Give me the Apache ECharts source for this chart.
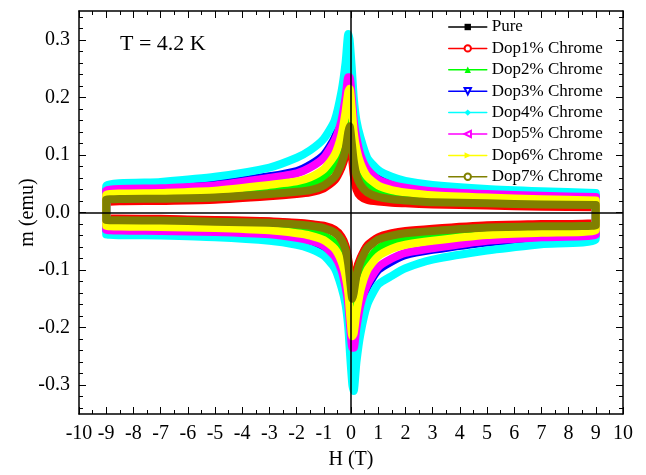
<!DOCTYPE html>
<html>
<head>
<meta charset="utf-8">
<script src="https://cdn.jsdelivr.net/npm/echarts@6/dist/echarts.min.js"></script>
<style>html,body{margin:0;padding:0;background:#fff}#c{width:646px;height:475px}</style>
</head>
<body>
<div id="c"></div>
<script>
// Field sweep grids (T)
const hUp   = [9, 7, 5, 3, 2, 1.5, 1, 0.6, 0.35, 0.2, 0.1, 0.03, -0.05, -0.1, -0.2, -0.35, -0.6, -1, -1.5, -2, -3, -5, -7, -9];
const hDown = [-9, -7, -5, -3, -2, -1.5, -1, -0.6, -0.35, -0.2, -0.1, -0.03, 0.05, 0.1, 0.2, 0.35, 0.6, 1, 1.5, 2, 3, 5, 7, 9];

const seriesNames = ['Pure', 'Dop1% Chrome', 'Dop2% Chrome', 'Dop3% Chrome', 'Dop4% Chrome', 'Dop5% Chrome', 'Dop6% Chrome', 'Dop7% Chrome'];

// m (emu), descending branch (hUp)
const pureUp = [0.011, 0.012, 0.014, 0.016, 0.019, 0.021, 0.024, 0.030, 0.040, 0.055, 0.08, 0.11, 0.145, 0.135, 0.105, 0.082, 0.059, 0.045, 0.037, 0.034, 0.030, 0.024, 0.022, 0.020];
const d1Up   = [0.009, 0.010, 0.012, 0.014, 0.016, 0.017, 0.019, 0.022, 0.028, 0.040, 0.065, 0.10, 0.14, 0.13, 0.10, 0.078, 0.056, 0.042, 0.035, 0.032, 0.028, 0.022, 0.020, 0.018];
const d2Up   = [0.018, 0.019, 0.021, 0.025, 0.029, 0.032, 0.039, 0.052, 0.07, 0.095, 0.12, 0.16, 0.19, 0.185, 0.15, 0.115, 0.085, 0.062, 0.050, 0.044, 0.039, 0.031, 0.029, 0.027];
const d3Up   = [0.029, 0.031, 0.034, 0.039, 0.045, 0.05, 0.06, 0.078, 0.105, 0.135, 0.17, 0.21, 0.24, 0.245, 0.21, 0.17, 0.13, 0.10, 0.083, 0.072, 0.063, 0.050, 0.044, 0.040];
const d4Up   = [0.034, 0.037, 0.041, 0.048, 0.055, 0.062, 0.074, 0.095, 0.13, 0.16, 0.2, 0.25, 0.30, 0.31, 0.26, 0.21, 0.16, 0.128, 0.108, 0.095, 0.078, 0.062, 0.053, 0.046];
const d5Up   = [0.027, 0.029, 0.032, 0.037, 0.043, 0.048, 0.057, 0.075, 0.10, 0.13, 0.16, 0.2, 0.235, 0.235, 0.2, 0.16, 0.125, 0.095, 0.078, 0.068, 0.060, 0.047, 0.042, 0.038];
const d6Up   = [0.021, 0.023, 0.026, 0.030, 0.035, 0.039, 0.047, 0.062, 0.085, 0.11, 0.14, 0.18, 0.215, 0.21, 0.175, 0.135, 0.10, 0.075, 0.061, 0.054, 0.048, 0.038, 0.034, 0.031];
const d7Up   = [0.013, 0.014, 0.016, 0.018, 0.021, 0.023, 0.027, 0.035, 0.048, 0.065, 0.09, 0.12, 0.15, 0.14, 0.11, 0.085, 0.062, 0.047, 0.039, 0.036, 0.032, 0.026, 0.024, 0.022];

// m (emu), ascending branch (hDown)
const pureDown = [-0.011, -0.012, -0.014, -0.016, -0.019, -0.021, -0.025, -0.032, -0.045, -0.062, -0.086, -0.115, -0.145, -0.135, -0.105, -0.082, -0.059, -0.045, -0.038, -0.034, -0.030, -0.024, -0.022, -0.020];
const d1Down   = [-0.010, -0.011, -0.013, -0.015, -0.018, -0.020, -0.023, -0.030, -0.042, -0.058, -0.082, -0.11, -0.14, -0.13, -0.10, -0.079, -0.057, -0.043, -0.036, -0.032, -0.028, -0.022, -0.020, -0.018];
const d2Down   = [-0.019, -0.020, -0.022, -0.026, -0.030, -0.033, -0.040, -0.053, -0.07, -0.095, -0.12, -0.16, -0.19, -0.185, -0.15, -0.115, -0.085, -0.063, -0.051, -0.045, -0.040, -0.032, -0.029, -0.027];
const d3Down   = [-0.031, -0.033, -0.036, -0.040, -0.046, -0.051, -0.061, -0.079, -0.105, -0.135, -0.17, -0.21, -0.24, -0.245, -0.21, -0.17, -0.13, -0.10, -0.085, -0.074, -0.065, -0.052, -0.045, -0.040];
const d4Down   = [-0.038, -0.040, -0.043, -0.049, -0.056, -0.063, -0.075, -0.097, -0.13, -0.16, -0.2, -0.25, -0.30, -0.31, -0.26, -0.21, -0.16, -0.125, -0.11, -0.097, -0.082, -0.066, -0.055, -0.046];
const d5Down   = [-0.030, -0.032, -0.034, -0.038, -0.044, -0.049, -0.058, -0.076, -0.10, -0.13, -0.16, -0.2, -0.235, -0.235, -0.2, -0.16, -0.125, -0.095, -0.08, -0.07, -0.062, -0.049, -0.043, -0.038];
const d6Down   = [-0.023, -0.025, -0.027, -0.031, -0.036, -0.040, -0.048, -0.063, -0.085, -0.11, -0.14, -0.18, -0.215, -0.21, -0.175, -0.135, -0.10, -0.076, -0.063, -0.056, -0.049, -0.039, -0.035, -0.031];
const d7Down   = [-0.013, -0.014, -0.016, -0.018, -0.021, -0.023, -0.027, -0.035, -0.048, -0.065, -0.09, -0.12, -0.15, -0.14, -0.11, -0.085, -0.062, -0.047, -0.040, -0.036, -0.032, -0.026, -0.024, -0.022];

const xTicks = [-10, -9, -8, -7, -6, -5, -4, -3, -2, -1, 0, 1, 2, 3, 4, 5, 6, 7, 8, 9, 10];
const yTicks = [-0.3, -0.2, -0.1, 0.0, 0.1, 0.2, 0.3];

const ups = [pureUp, d1Up, d2Up, d3Up, d4Up, d5Up, d6Up, d7Up];
const downs = [pureDown, d1Down, d2Down, d3Down, d4Down, d5Down, d6Down, d7Down];
const colors = ['#000000', '#ff0000', '#00ff00', '#0000ff', '#00ffff', '#ff00ff', '#ffff00', '#808000'];
const symbols = ['rect', 'emptyCircle', 'triangle', 'emptyTriangle', 'diamond', 'emptyTriangle', 'triangle', 'emptyCircle'];
const rotates = [0, 0, 0, 180, 0, 90, -90, 0];

const FONT = "'Liberation Serif', 'Times New Roman', serif";
const Y_MIN = -0.35, Y_MAX = 0.35;

// minor tick positions every 0.02 (excluding majors)
const yMinor = [];
for (let k = -17; k <= 17; k++) {
  const v = Math.round(k * 2) / 100;
  if (Math.abs(Math.round(v * 10) - v * 10) > 1e-6) yMinor.push(v);
}

function loop(i) {
  const pts = [];
  hUp.forEach((h, k) => pts.push([h, ups[i][k]]));
  hDown.forEach((h, k) => pts.push([h, downs[i][k]]));
  pts.push([hUp[0], ups[i][0]]);
  return pts;
}

const series = seriesNames.map((name, i) => ({
  name: name,
  type: 'line',
  xAxisIndex: 0,
  yAxisIndex: 0,
  data: loop(i),
  color: colors[i],
  symbol: symbols[i],
  symbolRotate: rotates[i],
  symbolSize: 6,
  showSymbol: false,
  smooth: 0.2,
  lineStyle: { width: 8, color: colors[i], cap: 'round', join: 'round' },
  itemStyle: { color: colors[i] },
  animation: false,
  silent: true
}));

series[series.length - 1].markLine = {
  silent: true,
  animation: false,
  symbol: ['none', 'none'],
  label: { show: false },
  lineStyle: { color: '#000', width: 1.5, type: 'solid' },
  data: [{ xAxis: 0 }, { yAxis: 0 }]
};

const lineBlack = { onZero: false, lineStyle: { color: '#000', width: 1.5 } };

function yAx(pos, withLabels) {
  const a = {
    type: 'value', position: pos, min: Y_MIN, max: Y_MAX, interval: 0.05,
    axisLine: lineBlack,
    splitLine: { show: false },
    axisTick: { inside: true, length: 7, customValues: yTicks, lineStyle: { color: '#000', width: 1 } },
    axisLabel: withLabels
      ? { fontFamily: FONT, fontSize: 20, color: '#000', margin: 9, customValues: yTicks, formatter: v => v.toFixed(1) }
      : { show: false }
  };
  if (withLabels) {
    a.name = 'm (emu)'; a.nameLocation = 'middle'; a.nameGap = 41;
    a.nameMoveOverlap = false;
    a.nameTextStyle = { fontFamily: FONT, fontSize: 20, color: '#000' };
  }
  return a;
}
function yMinorAx(pos) {
  return {
    type: 'value', position: pos, min: Y_MIN, max: Y_MAX, interval: 0.05,
    axisLine: { show: false, onZero: false },
    splitLine: { show: false },
    axisTick: { inside: true, length: 4, customValues: yMinor, lineStyle: { color: '#000', width: 1 } },
    axisLabel: { show: false }
  };
}
function xAx(pos, withLabels) {
  const a = {
    type: 'value', position: pos, min: xTicks[0], max: xTicks[xTicks.length - 1], interval: 1,
    axisLine: lineBlack,
    splitLine: { show: false },
    axisTick: { inside: true, length: 7, lineStyle: { color: '#000', width: 1 } },
    minorTick: { show: true, splitNumber: 2, length: 4, lineStyle: { color: '#000' } },
    axisLabel: withLabels
      ? { fontFamily: FONT, fontSize: 20, color: '#000', margin: 10, formatter: v => String(v) }
      : { show: false }
  };
  if (withLabels) {
    a.name = 'H (T)'; a.nameLocation = 'middle'; a.nameGap = 36;
    a.nameMoveOverlap = false;
    a.nameTextStyle = { fontFamily: FONT, fontSize: 20, color: '#000' };
  }
  return a;
}

const option = {
  backgroundColor: '#fff',
  animation: false,
  grid: { left: 79, right: 23, top: 11, bottom: 61 },
  graphic: [{
    type: 'text', left: 120, top: 33,
    style: { text: 'T = 4.2 K', font: '22px ' + FONT, fill: '#000' }
  }],
  legend: {
    data: seriesNames,
    orient: 'vertical',
    left: 443, top: 13,
    itemWidth: 38, itemHeight: 8, itemGap: 3.4,
    lineStyle: { width: 1.5 },
    textStyle: { fontFamily: FONT, fontSize: 17, color: '#000', lineHeight: 18 },
    selectedMode: false
  },
  xAxis: [xAx('bottom', true), xAx('top', false)],
  yAxis: [yAx('left', true), yAx('right', false), yMinorAx('left'), yMinorAx('right')],
  series: series
};

const chart = echarts.init(document.getElementById('c'), null, { renderer: 'canvas' });
chart.setOption(option);
</script>
</body>
</html>
